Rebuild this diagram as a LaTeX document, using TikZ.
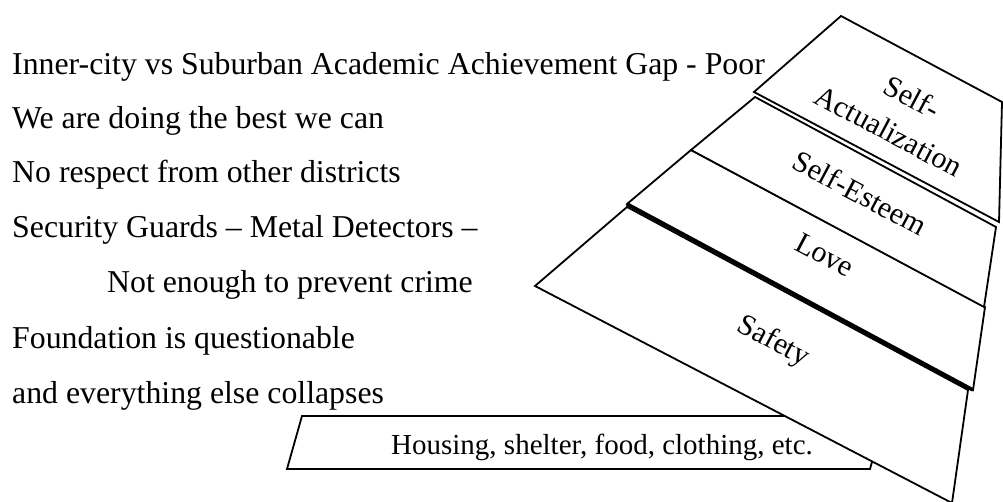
\documentclass[tikz,border=0pt]{standalone}
\usepackage{fontspec}
\setmainfont{Liberation Serif}
\begin{document}
\begin{tikzpicture}[x=1pt,y=-1pt, line join=miter,
  edge/.style={draw=black, line width=1.8pt, fill=white},
  thickedge/.style={draw=black, line width=3.6pt, line cap=butt},
  lefttext/.style={anchor=base west, inner sep=0pt, font=\fontsize{31.8}{38}\selectfont},
  basetext/.style={anchor=base west, inner sep=0pt, font=\fontsize{29}{34}\selectfont},
  lvl/.style={inner sep=0pt, rotate=-28, font=\fontsize{30}{36}\selectfont}]
\useasboundingbox (0,0) rectangle (1003,502);
\clip (0,0) rectangle (1003,502);
\fill[white] (0,0) rectangle (1003,502);

% left text
\node[lefttext] (t1) at (12,75) {Inner-city vs Suburban Academic Achievement Gap - Poor};
\node[lefttext] (t2) at (12,128.5) {We are doing the best we can};
\node[lefttext] (t3) at (12,183) {No respect from other districts};
\node[lefttext] (t4) at (12,237.5) {Security Guards – Metal Detectors –};
\node[lefttext] (t5) at (107,293) {Not enough to prevent crime};
\node[lefttext] (t6) at (12,348) {Foundation is questionable};
\node[lefttext] (t7) at (12,403) {and everything else collapses};

% base (housing) box
\coordinate (h1) at (302,416);
\coordinate (h2) at (885,416);
\coordinate (h3) at (870,469);
\coordinate (h4) at (287,469);
\draw[edge] (h1) -- (h2) -- (h3) -- (h4) -- cycle;
\node[basetext] (ht) at (391,454) {Housing, shelter, food, clothing, etc.};

% Safety
\coordinate (d1) at (627,207);
\coordinate (d2) at (968,390);
\coordinate (d3) at (952,503);
\coordinate (d4) at (535,286);
\draw[edge] (d1) -- (d2) -- (d3) -- (d4) -- cycle;

% Love
\coordinate (c1) at (691,150);
\coordinate (c2) at (985,307);
\coordinate (c3) at (973,390);
\coordinate (c4) at (627,204);
\draw[edge] (c1) -- (c2) -- (c3) -- (c4) -- cycle;
\draw[thickedge] (c4) -- (c3);

% Self-Esteem
\coordinate (b1) at (755,97);
\coordinate (b2) at (996,227);
\coordinate (b3) at (984,307);
\coordinate (b4) at (691,150);
\draw[edge] (b1) -- (b2) -- (b3) -- (b4) -- cycle;

% Self-Actualization
\coordinate (a1) at (841,16);
\coordinate (a2) at (1002,102);
\coordinate (a3) at (999,222);
\coordinate (a4) at (754,92);
\draw[edge] (a1) -- (a2) -- (a3) -- (a4) -- cycle;

% labels
\node[lvl] (la1) at (912,97) {Self-};
\node[lvl] (la2) at (889,131) {Actualization};
\node[lvl] (lb) at (860,193) {Self-Esteem};
\node[lvl] (lc) at (825,255) {Love};
\node[lvl] (ld) at (773,342) {Safety};
\end{tikzpicture}
\end{document}
